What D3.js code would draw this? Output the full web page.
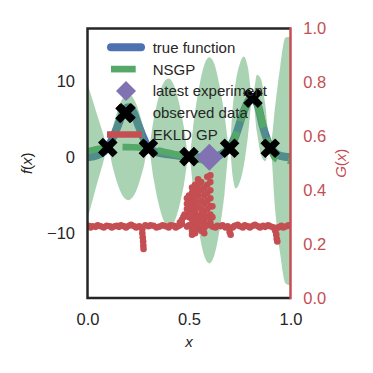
<!DOCTYPE html>
<html>
<head>
<meta charset="utf-8">
<script src="https://cdn.jsdelivr.net/npm/d3@7"></script>
<style>
  body { margin: 0; background: #fff; }
  text { font-family: "Liberation Sans", Arial, sans-serif; }
</style>
</head>
<body>
<div id="chart"></div>
<script>
// true function samples
const trueX = [0, 0.05, 0.1, 0.125, 0.15, 0.175, 0.2, 0.225, 0.25, 0.275, 0.3, 0.35, 0.4, 0.45, 0.5, 0.55, 0.6, 0.65, 0.7, 0.73, 0.77, 0.81, 0.84, 0.862, 0.9, 0.95, 1.0];
const trueF = [0.0, 0.3, 1.3, 2.6, 4.2, 5.9, 6.6, 6.0, 4.3, 2.6, 1.3, 0.6, 0.4, 0.2, 0.1, 0.0, 0.0, 0.3, 1.3, 2.9, 6.1, 7.9, 6.8, 4.3, 1.4, 0.2, 0.0];

// NSGP mean and 2-sigma half width
const nsgpX = [0, 0.025, 0.05, 0.075, 0.1, 0.125, 0.15, 0.175, 0.2, 0.225, 0.25, 0.275, 0.3, 0.325, 0.35, 0.375, 0.4, 0.425, 0.45, 0.475, 0.5, 0.525, 0.55, 0.575, 0.6, 0.625, 0.65, 0.675, 0.7, 0.715, 0.73, 0.75, 0.77, 0.79, 0.813, 0.835, 0.855, 0.875, 0.9, 0.925, 0.95, 0.975, 1.0];
const nsgpMean = [0.8, 0.95, 1.1, 1.2, 1.3, 1.33, 1.35, 1.35, 1.35, 1.33, 1.3, 1.25, 1.2, 1.05, 0.9, 0.75, 0.6, 0.45, 0.3, 0.15, 0.0, -0.15, -0.3, -0.4, -0.4, -0.3, -0.1, 0.4, 1.3, 2.0, 2.9, 4.5, 6.1, 7.3, 7.9, 7.1, 5.3, 3.3, 1.3, -0.1, -0.4, -0.4, -0.5];
const nsgpBand = [8.9, 6.6, 4.3, 2.1, 0, 2.7, 5.0, 6.5, 7.0, 6.5, 5.0, 2.7, 0, 3.8, 7.0, 9.1, 9.8, 9.1, 7.0, 3.8, 0, 5.2, 9.6, 12.6, 13.6, 12.6, 9.6, 5.2, 0, 4.5, 7.0, 7.8, 7.2, 4.6, 0, 3.8, 5.0, 3.8, 0, 7.0, 12.5, 16.2, 16.4];

// observed data + latest experiment
const obsX = [0.1, 0.185, 0.3, 0.5, 0.7, 0.815, 0.9];
const obsF = [1.3, 5.8, 1.2, 0.1, 1.2, 7.8, 1.2];
const latestX = [0.6];
const latestF = [0.0];

// EKLD GP values (right axis)
const ekldX = [0.005, 0.015, 0.025, 0.04, 0.05, 0.065, 0.08, 0.095, 0.11, 0.12, 0.135, 0.145, 0.155, 0.165, 0.18, 0.19, 0.205, 0.215, 0.23, 0.24, 0.255,
  0.27, 0.27, 0.272, 0.274, 0.275, 0.276,
  0.285, 0.3, 0.31, 0.325, 0.34, 0.355, 0.37, 0.385, 0.4, 0.41, 0.425, 0.435, 0.445, 0.455, 0.465, 0.455, 0.465, 0.472, 0.478,
  0.49, 0.49, 0.49, 0.49,
  0.5, 0.5, 0.5, 0.5, 0.5, 0.5,
  0.515, 0.515, 0.515, 0.515, 0.515, 0.515, 0.515, 0.515, 0.515, 0.515,
  0.53, 0.53, 0.53, 0.53, 0.53, 0.53, 0.53, 0.53, 0.53, 0.53,
  0.545, 0.545, 0.545, 0.545, 0.545, 0.545, 0.545, 0.545,
  0.56, 0.56, 0.56, 0.56, 0.56, 0.56, 0.56, 0.56,
  0.575, 0.575, 0.575, 0.575, 0.575, 0.575, 0.575, 0.575,
  0.59, 0.59, 0.59, 0.59, 0.59, 0.59, 0.59,
  0.605, 0.605, 0.605, 0.605, 0.605, 0.605, 0.605,
  0.615, 0.615, 0.615,
  0.63, 0.64, 0.655, 0.665, 0.68, 0.69, 0.7, 0.705, 0.715, 0.725, 0.74, 0.75, 0.765, 0.775, 0.79, 0.8, 0.815, 0.825, 0.84, 0.85, 0.865, 0.875, 0.89, 0.9, 0.915,
  0.925, 0.93, 0.932, 0.935, 0.94, 0.955, 0.965, 0.98, 0.99, 1.0];
const ekldG = [0.268, 0.262, 0.266, 0.264, 0.27, 0.266, 0.262, 0.268, 0.266, 0.262, 0.266, 0.268, 0.264, 0.27, 0.266, 0.262, 0.268, 0.272, 0.266, 0.262, 0.266,
  0.255, 0.24, 0.225, 0.21, 0.195, 0.182,
  0.27, 0.266, 0.27, 0.268, 0.262, 0.265, 0.27, 0.266, 0.262, 0.27, 0.268, 0.262, 0.266, 0.27, 0.275, 0.28, 0.29, 0.3, 0.31,
  0.265, 0.33, 0.35, 0.37,
  0.27, 0.3, 0.32, 0.34, 0.36, 0.38,
  0.235, 0.25, 0.27, 0.29, 0.31, 0.33, 0.35, 0.37, 0.39, 0.41,
  0.24, 0.26, 0.28, 0.3, 0.32, 0.34, 0.36, 0.38, 0.4, 0.42,
  0.26, 0.28, 0.3, 0.34, 0.38, 0.4, 0.42, 0.44,
  0.25, 0.27, 0.29, 0.31, 0.33, 0.36, 0.4, 0.43,
  0.24, 0.26, 0.28, 0.3, 0.32, 0.35, 0.38, 0.41,
  0.27, 0.3, 0.33, 0.36, 0.39, 0.42, 0.45,
  0.28, 0.31, 0.34, 0.37, 0.4, 0.43, 0.455,
  0.265, 0.3, 0.34,
  0.262, 0.268, 0.266, 0.27, 0.262, 0.266, 0.245, 0.235, 0.262, 0.268, 0.272, 0.266, 0.262, 0.27, 0.266, 0.262, 0.268, 0.272, 0.266, 0.262, 0.268, 0.264, 0.27, 0.266, 0.262,
  0.25, 0.235, 0.22, 0.21, 0.262, 0.268, 0.262, 0.266, 0.27, 0.268];

const xTicks = [0, 0.5, 1];
const fTicks = [-10, 0, 10];
const gTicks = [0, 0.2, 0.4, 0.6, 0.8, 1.0];
const legendLabels = ["true function", "NSGP", "latest experiment", "observed data", "EKLD GP"];

const W = 373, H = 373;
const margin = { top: 28.5, right: 82.5, bottom: 75, left: 87.5 };
const blue = "#4C72B0", green = "#55A868", red = "#C44E52", purple = "#8172B2", ink = "#262626";

const svg = d3.select("#chart").append("svg").attr("width", W).attr("height", H);

const x = d3.scaleLinear().domain([0, 1]).range([margin.left, W - margin.right]);
const y = d3.scaleLinear().domain([-18.56, 17.0]).range([H - margin.bottom, margin.top]);
const g = d3.scaleLinear().domain([0, 1]).range([H - margin.bottom, margin.top]);

svg.append("clipPath").attr("id", "plot")
  .append("rect")
  .attr("x", x(0)).attr("y", margin.top)
  .attr("width", x(1) - x(0)).attr("height", H - margin.bottom - margin.top);

const plot = svg.append("g").attr("clip-path", "url(#plot)");

// true function
const trueData = trueX.map((v, i) => ({ x: v, f: trueF[i] }));
plot.append("path")
  .datum(trueData)
  .attr("fill", "none")
  .attr("stroke", blue)
  .attr("stroke-width", 8)
  .attr("stroke-linecap", "round")
  .attr("d", d3.line().x(d => x(d.x)).y(d => y(d.f)).curve(d3.curveMonotoneX));

// NSGP mean
const nsgp = nsgpX.map((v, i) => ({ x: v, m: nsgpMean[i], s: nsgpBand[i] }));
plot.append("path")
  .datum(nsgp)
  .attr("fill", "none")
  .attr("stroke", green)
  .attr("stroke-width", 6.67)
  .attr("stroke-dasharray", "24.7,10.7")
  .attr("d", d3.line().x(d => x(d.x)).y(d => y(d.m)).curve(d3.curveMonotoneX));

// NSGP band
plot.append("path")
  .datum(nsgp)
  .attr("fill", green)
  .attr("fill-opacity", 0.5)
  .attr("d", d3.area()
    .x(d => x(d.x))
    .y0(d => y(d.m - d.s))
    .y1(d => y(d.m + d.s))
    .curve(d3.curveMonotoneX));

// observed data
const xMark = d3.symbol(d3.symbolCross, 240);
plot.selectAll(".obs")
  .data(obsX.map((v, i) => ({ x: v, f: obsF[i] })))
  .enter().append("path")
  .attr("class", "obs")
  .attr("d", xMark)
  .attr("fill", "#000")
  .attr("transform", d => `translate(${x(d.x)},${y(d.f)}) rotate(45)`);

// latest experiment
plot.selectAll(".latest")
  .data(latestX.map((v, i) => ({ x: v, f: latestF[i] })))
  .enter().append("path")
  .attr("class", "latest")
  .attr("d", d3.symbol(d3.symbolSquare, 365))
  .attr("fill", purple)
  .attr("transform", d => `translate(${x(d.x)},${y(d.f)}) rotate(45)`);

// EKLD GP on twin axis
plot.selectAll(".ekld")
  .data(ekldX.map((v, i) => ({ x: v, g: ekldG[i] })))
  .enter().append("circle")
  .attr("class", "ekld")
  .attr("cx", d => x(d.x))
  .attr("cy", d => g(d.g))
  .attr("r", 3.3)
  .attr("fill", red);

// axes
const fontSize = 16.5;
const xAxis = svg.append("g")
  .attr("transform", `translate(0,${H - margin.bottom})`)
  .call(d3.axisBottom(x).tickValues(xTicks).tickFormat(d3.format(".1f")).tickSize(0).tickPadding(15));
const leftAxis = svg.append("g")
  .attr("transform", `translate(${margin.left},0)`)
  .call(d3.axisLeft(y).tickValues(fTicks).tickSize(0).tickPadding(12.5));
const rightAxis = svg.append("g")
  .attr("transform", `translate(${x(1)},0)`)
  .call(d3.axisRight(g).tickValues(gTicks).tickFormat(d3.format(".1f")).tickSize(0).tickPadding(12.8));

[xAxis, leftAxis, rightAxis].forEach(a => {
  a.select(".domain").remove();
  a.attr("font-size", fontSize).attr("font-family", "Liberation Sans, Arial, sans-serif");
});
xAxis.selectAll("text").attr("fill", ink);
leftAxis.selectAll("text").attr("fill", ink);
rightAxis.selectAll("text").attr("fill", red);

// spines
const sw = 2.5;
svg.append("path")
  .attr("fill", "none").attr("stroke", ink).attr("stroke-width", sw)
  .attr("d", `M${x(1)},${margin.top}H${x(0)}V${H - margin.bottom}H${x(1)}`);
svg.append("line")
  .attr("x1", x(1)).attr("x2", x(1))
  .attr("y1", margin.top - sw / 2).attr("y2", H - margin.bottom + sw / 2)
  .attr("stroke", red).attr("stroke-width", sw);

// axis labels (math italic)
const mathFont = "DejaVu Sans, sans-serif";
svg.append("text")
  .attr("x", (x(0) + x(1)) / 2).attr("y", 346.5)
  .attr("text-anchor", "middle").attr("font-family", mathFont).attr("font-size", 15)
  .attr("font-style", "italic").attr("fill", ink)
  .text("x");

const fl = svg.append("text")
  .attr("transform", `translate(32,${(margin.top + H - margin.bottom) / 2}) rotate(-90)`)
  .attr("text-anchor", "middle").attr("font-family", mathFont).attr("font-size", 15)
  .attr("fill", ink);
fl.append("tspan").attr("font-style", "italic").text("f");
fl.append("tspan").text("(");
fl.append("tspan").attr("font-style", "italic").text("x");
fl.append("tspan").text(")");

const gl = svg.append("text")
  .attr("transform", `translate(346,${(margin.top + H - margin.bottom) / 2}) rotate(-90)`)
  .attr("text-anchor", "middle").attr("font-family", mathFont).attr("font-size", 15)
  .attr("fill", red);
gl.append("tspan").attr("font-style", "italic").text("G");
gl.append("tspan").text("(");
gl.append("tspan").attr("font-style", "italic").text("x");
gl.append("tspan").text(")");

// legend
const legend = svg.append("g");
const rowY = i => 47.3 + i * 21.8;
const hx0 = 111, hx1 = 141;

legend.append("line")
  .attr("x1", hx0).attr("x2", hx1).attr("y1", rowY(0)).attr("y2", rowY(0))
  .attr("stroke", blue).attr("stroke-width", 8).attr("stroke-linecap", "round");
legend.append("line")
  .attr("x1", hx0).attr("x2", hx1).attr("y1", rowY(1)).attr("y2", rowY(1))
  .attr("stroke", green).attr("stroke-width", 6.67).attr("stroke-dasharray", "24.7,10.7");
legend.append("path")
  .attr("d", d3.symbol(d3.symbolSquare, 200))
  .attr("fill", purple)
  .attr("transform", `translate(${(hx0 + hx1) / 2},${rowY(2)}) rotate(45)`);
legend.append("path")
  .attr("d", xMark)
  .attr("fill", "#000")
  .attr("transform", `translate(${(hx0 + hx1) / 2},${rowY(3)}) rotate(45)`);
legend.append("line")
  .attr("x1", 107).attr("x2", 142).attr("y1", rowY(4)).attr("y2", rowY(4))
  .attr("stroke", red).attr("stroke-width", 6.67);

legend.selectAll(".lbl")
  .data(legendLabels)
  .enter().append("text")
  .attr("class", "lbl")
  .attr("x", 152.7)
  .attr("y", (d, i) => rowY(i) + 5.4)
  .attr("font-size", 15)
  .attr("fill", ink)
  .text(d => d);
</script>
</body>
</html>
